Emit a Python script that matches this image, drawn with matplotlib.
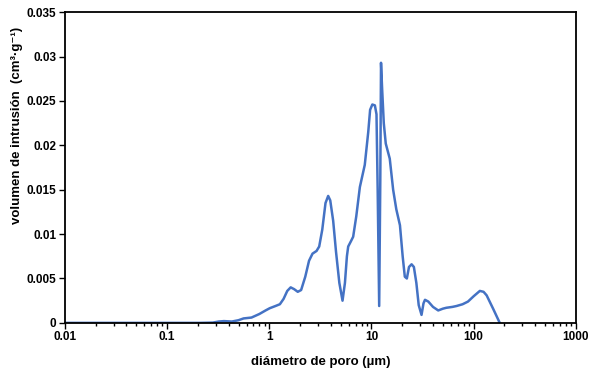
import matplotlib
matplotlib.use('Agg')
import matplotlib.pyplot as plt
from matplotlib.ticker import FixedLocator, LogLocator, NullFormatter

plt.rcParams['font.family'] = ['Liberation Sans', 'DejaVu Sans']
plt.rcParams['font.weight'] = 'bold'

# 孔径 (µm) 与侵入体积 (cm3/g)
diametro = [0.01, 0.05, 0.1, 0.21, 0.28, 0.32, 0.36, 0.43, 0.50, 0.56, 0.67,
            0.80, 0.92, 1.01, 1.15, 1.27, 1.38, 1.50, 1.62, 1.75, 1.90, 2.05,
            2.25, 2.45, 2.65, 2.90, 3.08, 3.30, 3.55, 3.77, 3.95, 4.22, 4.50,
            4.85, 5.21, 5.50, 5.75, 5.92, 6.30, 6.62, 7.10, 7.70, 8.60, 9.30,
            9.70, 10.2, 10.8, 11.2, 11.5, 11.9, 12.2, 12.4, 12.7, 13.2, 13.8,
            15.1, 16.3, 17.5, 19.0, 20.2, 21.2, 22.2, 23.3, 24.7, 26.0, 27.5,
            29.0, 30.9, 32.3, 33.4, 36.0, 40.0, 45.0, 50.0, 54.0, 62.0, 68.0,
            78.0, 88.0, 100.0, 115.0, 125.0, 134.0, 155.0, 180.0]
volumen = [0.0, 0.0, 0.0, 0.0, 0.00003, 0.00015, 0.0002, 0.00015, 0.0003, 0.0005,
           0.0006, 0.0010, 0.0014, 0.00165, 0.0019, 0.0021, 0.0027, 0.0036, 0.0040,
           0.0038, 0.0035, 0.0037, 0.0052, 0.0070, 0.0078, 0.0081, 0.0086, 0.0105,
           0.0135, 0.0143, 0.0138, 0.0115, 0.0080, 0.0045, 0.0025, 0.0045, 0.0075,
           0.0086, 0.0092, 0.0097, 0.0120, 0.0153, 0.0178, 0.0215, 0.0240, 0.0246,
           0.0245, 0.0235, 0.0150, 0.0019, 0.0160, 0.0293, 0.0265, 0.0225, 0.0202,
           0.0185, 0.0150, 0.0128, 0.0110, 0.0075, 0.0052, 0.0050, 0.0063, 0.0066,
           0.0063, 0.0045, 0.0020, 0.0009, 0.0022, 0.0026, 0.0024, 0.0018, 0.0014,
           0.0016, 0.0017, 0.0018, 0.0019, 0.0021, 0.0024, 0.0030, 0.0036, 0.0035,
           0.0031, 0.0016, 0.0]

x_ticks = [0.01, 0.1, 1, 10, 100, 1000]
x_labels = ['0.01', '0.1', '1', '10', '100', '1000']
y_ticks = [0, 0.005, 0.01, 0.015, 0.02, 0.025, 0.03, 0.035]
y_labels = ['0', '0.005', '0.01', '0.015', '0.02', '0.025', '0.03', '0.035']

fig = plt.figure(figsize=(5.9, 3.69), dpi=100)
ax = fig.add_axes([0.110, 0.125, 0.866, 0.842])

ax.plot(diametro, volumen, color='#4472C4', linewidth=1.8,
        solid_joinstyle='round')

ax.set_xscale('log')
ax.set_xlim(0.01, 1000)
ax.set_ylim(0, 0.035)

ax.xaxis.set_major_locator(FixedLocator(x_ticks))
ax.set_xticklabels(x_labels)
ax.xaxis.set_minor_locator(LogLocator(base=10, subs=range(2, 10)))
ax.xaxis.set_minor_formatter(NullFormatter())
ax.set_yticks(y_ticks)
ax.set_yticklabels(y_labels)

ax.tick_params(axis='both', which='major', direction='out', length=4, width=1,
               labelsize=8.5, pad=2)
ax.tick_params(axis='x', which='minor', direction='out', length=2.5, width=1)
for s in ax.spines.values():
    s.set_linewidth(1.3)
    s.set_color('black')

ax.set_xlabel('diámetro de poro (µm)', fontsize=9.5, fontweight='bold', labelpad=9)
ax.set_ylabel('volumen de intrusión  (cm³·g⁻¹)', fontsize=9.5, fontweight='bold')
ax.yaxis.set_label_coords(-0.082, 0.637)

fig.savefig('out.png', dpi=100)
